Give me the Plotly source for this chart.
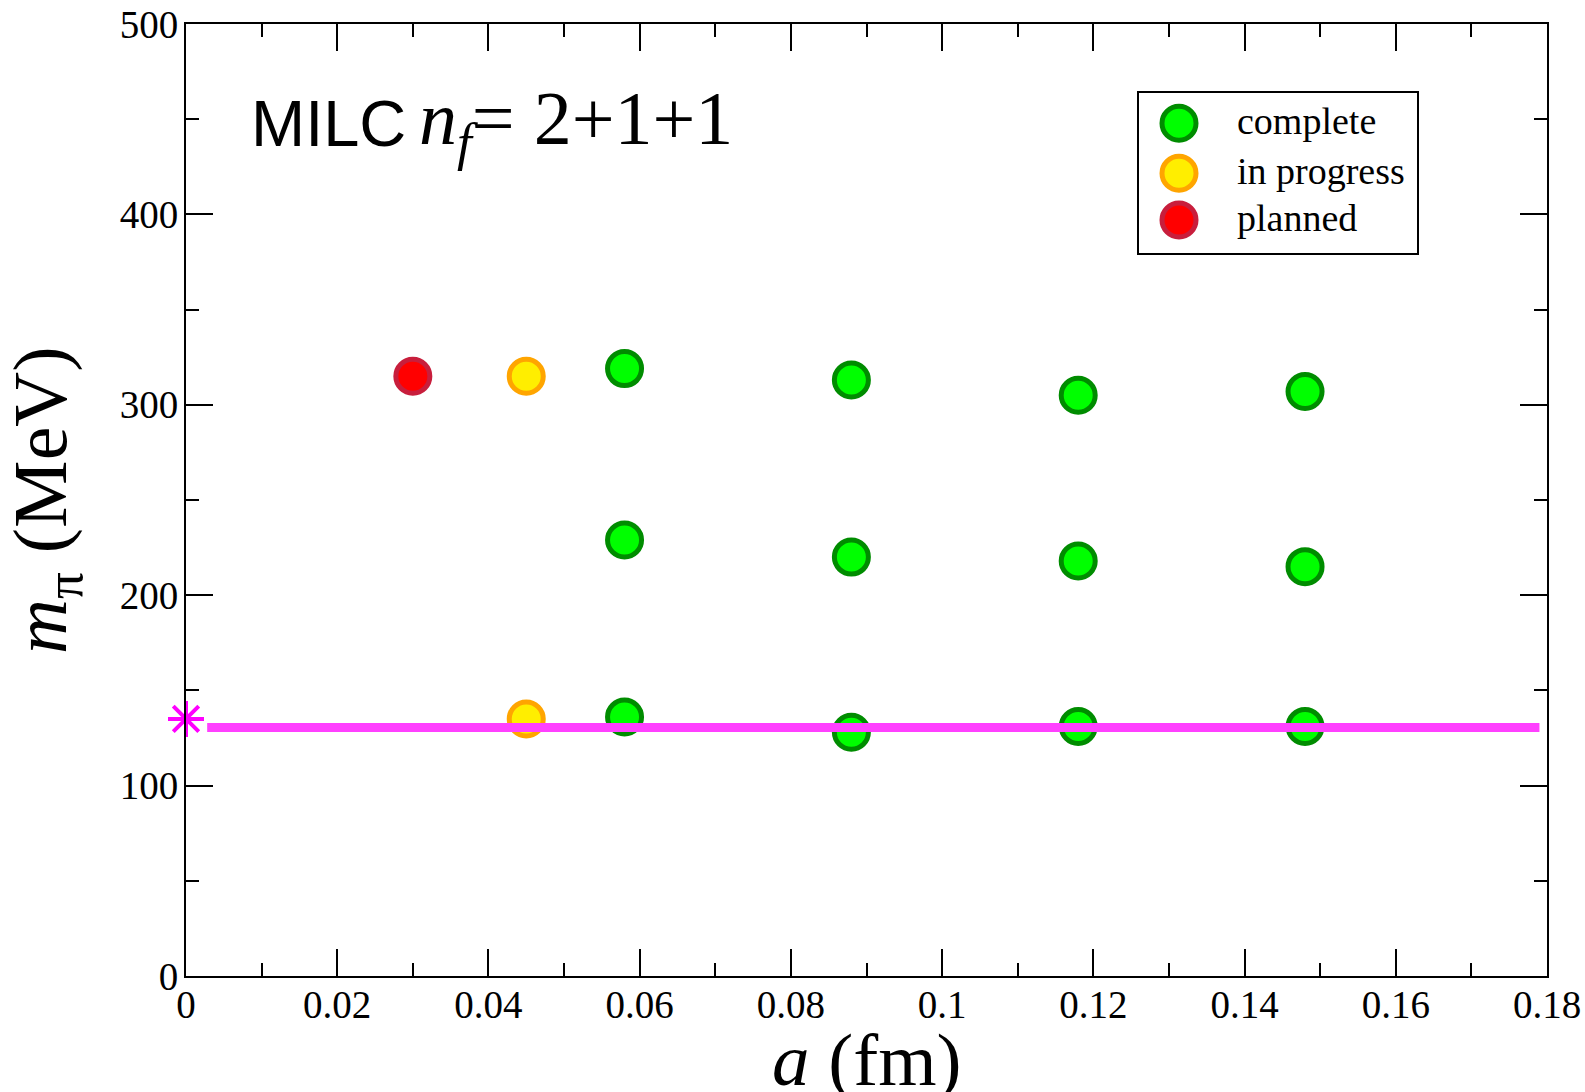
import plotly.graph_objects as go

# ---- data ----
complete_a = [0.058, 0.088, 0.118, 0.148,
              0.058, 0.088, 0.118, 0.148,
              0.058, 0.088, 0.118, 0.148]
complete_mpi = [319, 313, 305, 307,
                229, 220, 218, 215,
                136, 128, 131, 131]
progress_a = [0.045, 0.045]
progress_mpi = [315, 135]
planned_a = [0.030]
planned_mpi = [315]
phys_line_a = [0.0028, 0.179]
phys_line_mpi = [130.5, 130.5]
phys_point_a = [0.0]
phys_point_mpi = [135]
legend_labels = ["complete", "in progress", "planned"]

SERIF = "Liberation Serif, Times New Roman, serif"
SANS = "Liberation Sans, Arial, sans-serif"

styles = {
    "complete": dict(color="#00ff00", line=dict(color="#008c00", width=5)),
    "in progress": dict(color="#ffee00", line=dict(color="#ffa500", width=5)),
    "planned": dict(color="#ff0000", line=dict(color="#c81e3c", width=5)),
}

fig = go.Figure()
for name, xs, ys in [("complete", complete_a, complete_mpi),
                     ("in progress", progress_a, progress_mpi),
                     ("planned", planned_a, planned_mpi)]:
    st = styles[name]
    fig.add_trace(go.Scatter(x=xs, y=ys, mode="markers", name=name, showlegend=False,
                             marker=dict(symbol="circle", size=34, color=st["color"], line=st["line"])))

fig.add_trace(go.Scatter(x=phys_line_a, y=phys_line_mpi, mode="lines", showlegend=False,
                         line=dict(color="#ff40ff", width=9)))
fig.add_trace(go.Scatter(x=phys_point_a, y=phys_point_mpi, mode="markers", showlegend=False,
                         cliponaxis=False,
                         marker=dict(symbol="asterisk-open", size=30, color="#ff00ff",
                                     line=dict(color="#ff00ff", width=4))))

# manual legend
L, T = 186, 24
PW, PH = 1361, 952
def px(xp): return (xp - L) / PW
def py(yp): return (T + PH - yp) / PH

shapes = [dict(type="rect", xref="paper", yref="paper",
               x0=px(1138), x1=px(1418), y0=py(254), y1=py(92),
               line=dict(color="black", width=2), fillcolor="white", layer="above")]
annotations = []
rows_y = [123.3, 173.3, 220]
for lab, yy in zip(legend_labels, rows_y):
    st = styles[lab]
    shapes.append(dict(type="circle", xref="paper", yref="paper",
                       xsizemode="pixel", ysizemode="pixel",
                       xanchor=px(1179), yanchor=py(yy),
                       x0=-17, x1=17, y0=-17, y1=17,
                       fillcolor=st["color"], line=dict(color=st["line"]["color"], width=5),
                       layer="above"))
    annotations.append(dict(xref="paper", yref="paper", x=px(1235), y=py(yy - 2),
                            xanchor="left", yanchor="middle", showarrow=False,
                            text=lab, font=dict(family=SERIF, size=38, color="black")))

# title: sans part and serif part
annotations.append(dict(xref="paper", yref="paper", x=px(249), y=py(162),
                        xanchor="left", yanchor="bottom", showarrow=False,
                        text="MILC", font=dict(family=SANS, size=65, color="black")))
annotations.append(dict(xref="paper", yref="paper", x=px(417), y=py(174),
                        xanchor="left", yanchor="bottom", showarrow=False,
                        text="<i>n</i><sub><i>f</i></sub>= 2+1+1",
                        font=dict(family=SERIF, size=76, color="black")))
annotations.append(dict(xref="paper", yref="paper", x=0.5, y=py(1016),
                        xanchor="center", yanchor="top", showarrow=False,
                        text="<i>a</i> (fm)", font=dict(family=SERIF, size=75, color="black")))
annotations.append(dict(xref="paper", yref="paper", x=px(46), y=0.5,
                        xanchor="center", yanchor="middle", showarrow=False, textangle=-90,
                        text="<i>m</i><sub>π</sub> (MeV)", font=dict(family=SERIF, size=76, color="black")))

axis_common = dict(showline=True, linecolor="black", linewidth=2, mirror="allticks",
                   ticks="inside", ticklen=27, tickwidth=2, tickcolor="black",
                   showgrid=False, zeroline=False, automargin=False,
                   tickfont=dict(family=SERIF, size=39, color="black"))

fig.update_layout(
    width=1585, height=1092,
    margin=dict(l=L, r=1585 - L - PW, t=T, b=1092 - T - PH),
    paper_bgcolor="white", plot_bgcolor="white",
    xaxis=dict(range=[0, 0.18], dtick=0.02, tick0=0, ticklabelstandoff=-7,
               minor=dict(ticks="inside", ticklen=13, tickwidth=2, tickcolor="black", dtick=0.01, showgrid=False),
               **axis_common),
    yaxis=dict(range=[0, 500], dtick=100, tick0=0, ticklabelstandoff=-2,
               minor=dict(ticks="inside", ticklen=13, tickwidth=2, tickcolor="black", dtick=50, showgrid=False),
               **axis_common),
    shapes=shapes, annotations=annotations, showlegend=False,
)

fig.write_html("out.html")
